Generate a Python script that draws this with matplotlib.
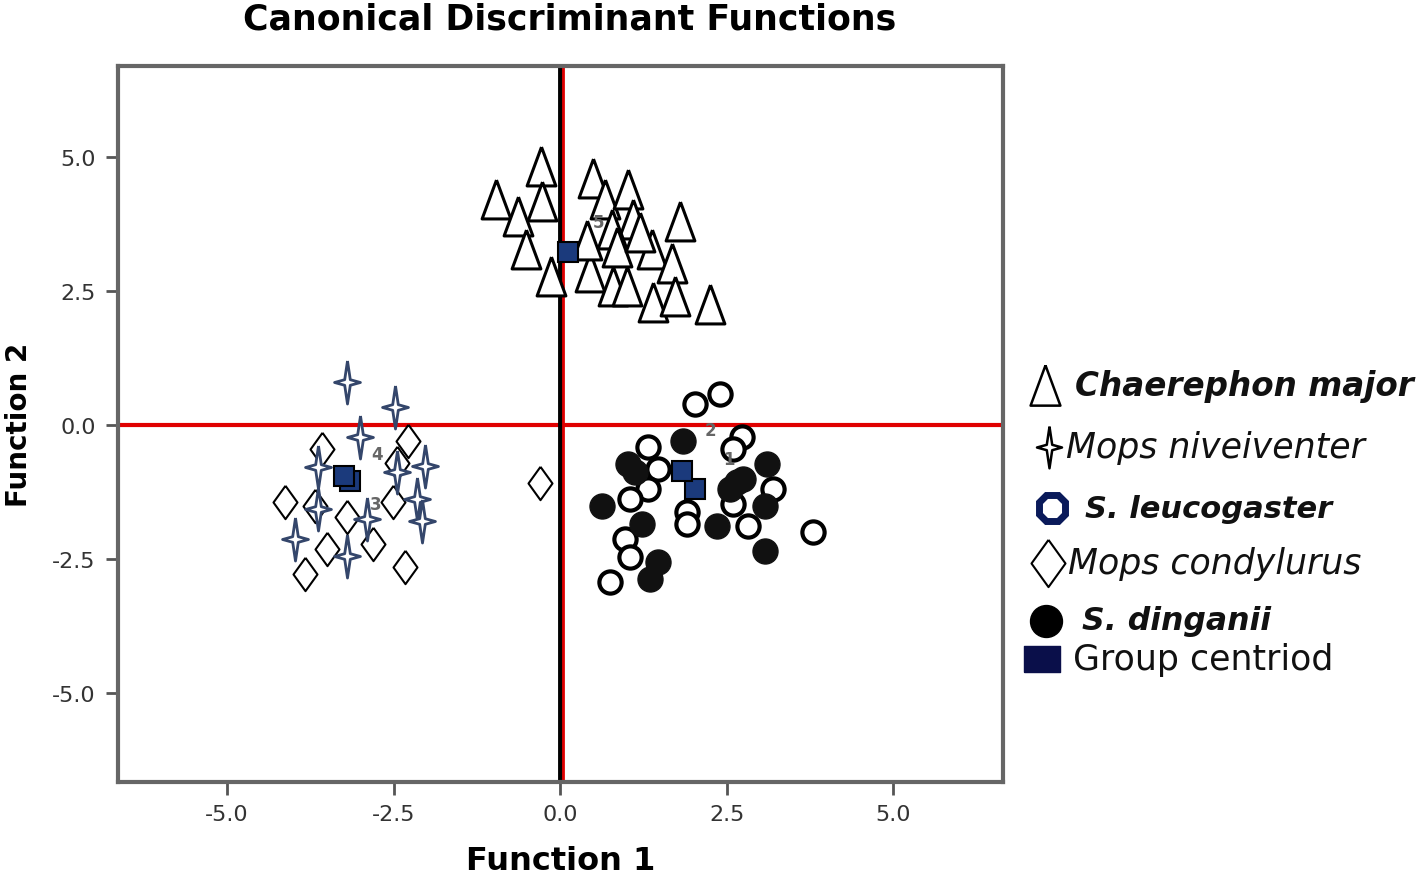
import numpy as np
import matplotlib.pyplot as plt
from matplotlib.path import Path
from matplotlib.lines import Line2D

# ---- data ----
chaerephon_x = [-0.29, -0.96, -0.63, -0.27, -0.51, -0.14, 0.50, 0.68, 1.02, 1.10,
                0.78, 1.80, 0.45, 0.85, 0.80, 1.00, 1.38, 1.40, 1.68, 1.72, 2.25, 0.40, 1.20]
chaerephon_y = [4.83, 4.22, 3.91, 4.19, 3.28, 2.79, 4.61, 4.22, 4.41, 3.85,
                3.66, 3.81, 2.85, 3.33, 2.59, 2.59, 3.29, 2.30, 3.03, 2.40, 2.26, 3.45, 3.60]

niveiventer_x = [-3.20, -2.48, -3.00, -3.63, -2.45, -2.03, -2.15, -2.07, -3.63, -2.90, -3.98, -3.20]
niveiventer_y = [0.80, 0.34, -0.22, -0.78, -0.88, -0.76, -1.38, -1.79, -1.57, -1.75, -2.13, -2.44]

condylurus_x = [-3.57, -2.28, -4.13, -3.68, -3.20, -2.51, -3.50, -2.81, -3.83, -2.33, -2.45, -0.30]
condylurus_y = [-0.45, -0.30, -1.44, -1.51, -1.72, -1.44, -2.31, -2.22, -2.78, -2.65, -0.70, -1.08]

leucogaster_x = [2.03, 2.40, 1.32, 2.73, 2.60, 1.47, 1.32, 1.05, 1.91, 1.91,
                 2.60, 3.20, 2.82, 0.98, 1.05, 0.75, 3.80]
leucogaster_y = [0.39, 0.58, -0.41, -0.22, -0.45, -0.82, -1.19, -1.38, -1.62, -1.85,
                 -1.47, -1.19, -1.88, -2.13, -2.46, -2.93, -2.00]

dinganii_x = [1.85, 1.02, 1.13, 0.63, 1.23, 1.47, 1.35, 2.36, 2.66, 2.75, 3.11, 3.08, 3.08, 2.55]
dinganii_y = [-0.30, -0.73, -0.88, -1.51, -1.85, -2.56, -2.87, -1.88, -1.06, -1.01, -0.73, -1.51, -2.35, -1.20]

# group centroids: 1..5
centroid_x = [2.03, 1.83, -3.15, -3.25, 0.12]
centroid_y = [-1.19, -0.86, -1.05, -0.95, 3.23]
centroid_lbl = ['1', '2', '3', '4', '5']
centroid_off = [(20, 18), (16, 26), (14, -20), (20, 12), (18, 18)]

ticks = [-5.0, -2.5, 0.0, 2.5, 5.0]

legend_labels = ['Chaerephon major', 'Mops niveiventer', 'S. leucogaster',
                 'Mops condylurus', 'S. dinganii', 'Group centriod']

# ---- markers ----
star = Path([(0, 1), (0.13, 0.13), (0.6, 0), (0.13, -0.13), (0, -1),
             (-0.13, -0.13), (-0.6, 0), (-0.13, 0.13), (0, 1)])
tri = Path([(0, 0.5), (0.37, -0.5), (-0.37, -0.5), (0, 0.5)])
diam = Path([(0, 1), (0.72, 0), (0, -1), (-0.72, 0), (0, 1)])
rect = Path([(-1, -0.72), (1, -0.72), (1, 0.72), (-1, 0.72), (-1, -0.72)])

STAR_C = '#34466b'
NAVY = '#1b3a7c'

fig = plt.figure(figsize=(14.18, 8.78), dpi=100)
ax = fig.add_axes([0.0832, 0.1082, 0.6241, 0.8155])

ax.axhline(0, color='#e00000', lw=3, zorder=1)
ax.axvline(0, color='black', lw=3.5, zorder=1)
ax.axvline(0.04, color='#e00000', lw=2, zorder=1)

ax.plot(chaerephon_x, chaerephon_y, ls='none', marker=tri, ms=28,
        mfc='white', mec='black', mew=2.2, zorder=3)
ax.plot(condylurus_x, condylurus_y, ls='none', marker=diam, ms=24,
        mfc='white', mec='black', mew=1.5, zorder=3)
ax.plot(niveiventer_x, niveiventer_y, ls='none', marker=star, ms=31,
        mfc='white', mec=STAR_C, mew=2, zorder=4)
ax.plot(leucogaster_x, leucogaster_y, ls='none', marker='o', ms=16,
        mfc='white', mec='black', mew=3, zorder=3)
ax.plot(dinganii_x, dinganii_y, ls='none', marker='o', ms=18,
        mfc='#111111', mec='#111111', mew=1, zorder=3)
ax.plot(centroid_x, centroid_y, ls='none', marker='s', ms=15,
        mfc=NAVY, mec='black', mew=1.5, zorder=5)
for cx, cy, lb, off in zip(centroid_x, centroid_y, centroid_lbl, centroid_off):
    ax.annotate(lb, (cx, cy), xytext=off, textcoords='offset points',
                fontsize=12, color='#666666', fontweight='bold', zorder=6)

ax.set_xlim(-6.64, 6.65)
ax.set_ylim(-6.66, 6.70)
ax.set_xticks(ticks)
ax.set_yticks(ticks)
ax.set_xticklabels([f'{t:.1f}' for t in ticks])
ax.set_yticklabels([f'{t:.1f}' for t in ticks])
ax.tick_params(direction='out', length=9, width=2, color='#555555',
               labelsize=16, labelcolor='#333333', pad=7)
for s in ax.spines.values():
    s.set_linewidth(3)
    s.set_color('#666666')

ax.set_xlabel('Function 1', fontsize=23, fontweight='bold', labelpad=15)
ax.set_ylabel('Function 2', fontsize=20, fontweight='bold', labelpad=14)
fig.text(0.402, 0.978, 'Canonical Discriminant Functions', ha='center', va='center',
         fontsize=25, fontweight='bold')

# ---- legend drawn beside the plot ----
leg_y = [0.560, 0.490, 0.420, 0.358, 0.292, 0.248]
leg_mx = [0.737, 0.740, 0.742, 0.739, 0.738, 0.735]
leg_tx = [0.758, 0.752, 0.765, 0.753, 0.763, 0.757]
leg_fs = [23.5, 25, 22, 25, 22.7, 25]
leg_style = [('italic', 'bold'), ('italic', 'normal'), ('italic', 'bold'),
             ('italic', 'normal'), ('italic', 'bold'), ('normal', 'normal')]
leg_marker = [dict(marker=tri, ms=29, mfc='white', mec='black', mew=1.8),
              dict(marker=star, ms=30, mfc='white', mec='black', mew=1.8),
              dict(marker='8', ms=21, mfc='white', mec='#0a1a5a', mew=5),
              dict(marker=diam, ms=34, mfc='white', mec='black', mew=1.5),
              dict(marker='o', ms=23, mfc='black', mec='black'),
              dict(marker=rect, ms=26, mfc='#0a0f4a', mec='#0a0f4a')]
for lbl, y, mx, tx, fs, st, mk in zip(legend_labels, leg_y, leg_mx, leg_tx, leg_fs,
                                      leg_style, leg_marker):
    fig.add_artist(Line2D([mx], [y], transform=fig.transFigure, ls='none', **mk))
    fig.text(tx, y, lbl, fontsize=fs, fontstyle=st[0], fontweight=st[1],
             va='center', ha='left', color='#111111')

fig.savefig('out.png', dpi=100)
